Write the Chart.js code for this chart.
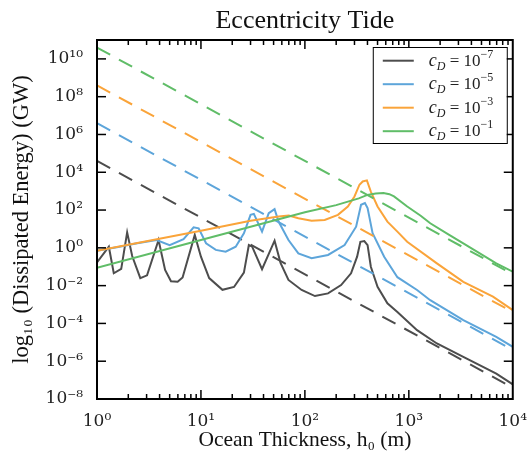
<!DOCTYPE html>
<html><head><meta charset="utf-8">
<script src="https://cdn.jsdelivr.net/npm/chart.js@4/dist/chart.umd.min.js"></script>
<style>html,body{margin:0;padding:0;background:#fff;}</style>
</head><body>
<canvas id="c" width="531" height="451"></canvas>
<script>
// ---- data ----
const xTickValues = [1, 10, 100, 1000, 10000];
const xTickLabels = ['10⁰', '10¹', '10²', '10³', '10⁴'];
const yTickValues = [1e-8, 1e-6, 1e-4, 1e-2, 1, 1e2, 1e4, 1e6, 1e8, 1e10];
const yTickLabels = ['10⁻⁸', '10⁻⁶', '10⁻⁴', '10⁻²', '10⁰', '10²', '10⁴', '10⁶', '10⁸', '10¹⁰'];
const cdExponents = ['−7', '−5', '−3', '−1'];
const seriesColors = ['#4D4D4D', '#5DA5DA', '#FAA43A', '#60BD68'];

const hBlack = [1, 1.3, 1.45, 1.71, 1.95, 2.18, 2.61, 3.03, 3.91, 4.52, 5.15, 5.97, 6.66, 8.72, 10.0, 12.0, 16.1, 20.8, 25.9, 28.9, 31.1, 38.7, 51.1, 58.3, 69.5, 93, 125, 167, 223, 278, 318, 342, 373, 401, 431, 500, 622, 776, 1200, 1862, 3342, 6937, 10000];
const eBlack = [0.17, 1.15, 0.045, 0.076, 6.6, 0.37, 0.025, 0.035, 2.6, 0.068, 0.017, 0.016, 0.027, 4.8, 0.34, 0.025, 0.006, 0.0085, 0.049, 1.4, 1.15, 0.074, 2.4, 0.16, 0.02, 0.0059, 0.0028, 0.0039, 0.0107, 0.045, 0.34, 2.1, 2.3, 1.4, 0.1, 0.0087, 0.00115, 4.0e-4, 4.4e-5, 8.7e-6, 1.7e-6, 2.2e-7, 6.0e-8];

const hBlue = [1, 1.6, 2.44, 3.74, 5.0, 6.8, 8.5, 9.5, 11.2, 13.9, 17.3, 21.6, 25.9, 30, 32.3, 38.7, 44.9, 51.1, 55.8, 69.5, 86.5, 116, 167, 241, 311, 347, 378, 401, 448, 579, 776, 1200, 1607, 3342, 6937, 10000];
const eBlue = [0.7, 1.1, 1.74, 2.6, 1.4, 2.9, 12.3, 10.7, 1.74, 0.78, 0.63, 1.15, 5.9, 55.6, 63, 7.2, 68, 112, 24.5, 2.6, 0.51, 0.28, 0.42, 1.4, 13.2, 190, 234, 126, 5.9, 0.34, 0.028, 0.0059, 0.0017, 1.5e-4, 1.95e-5, 5.8e-6];

const hOrange = [1, 10, 30, 56, 70, 86.5, 116, 155, 208, 259, 300, 335, 360, 395, 431, 500, 622, 776, 964, 1862, 3342, 6450, 10000];
const eOrange = [0.71, 8.1, 27, 45, 52, 37, 27, 30, 56, 155, 525, 2190, 3240, 3720, 955, 155, 24.5, 7.2, 2.1, 0.15, 0.016, 0.0026, 5.1e-4];

const hGreen = [1, 10, 100, 200, 330, 400, 480, 570, 650, 720, 965, 1300, 1607, 2400, 3342, 6937, 10000];
const eGreen = [0.089, 2.6, 76, 182, 417, 631, 759, 794, 692, 525, 155, 50, 20, 5.2, 1.74, 0.15, 0.055];

const hDash = [1, 10000];
const eDashBlack = [3.98e4, 3.98e-8];
const eDashBlue = [3.98e6, 3.98e-6];
const eDashOrange = [3.98e8, 3.98e-4];
const eDashGreen = [3.98e10, 3.98e-2];

// ---- build ----
const SERIF = "'Liberation Serif', 'DejaVu Serif', serif";
const TICKSERIF = "'DejaVu Serif', serif";
const toPts = (hs, es) => hs.map((h, i) => ({x: h, y: es[i]}));
const solid = [[hBlack, eBlack], [hBlue, eBlue], [hOrange, eOrange], [hGreen, eGreen]];
const dashed = [eDashBlack, eDashBlue, eDashOrange, eDashGreen];
const datasets = [];
solid.forEach((s, i) => {
  datasets.push({label: 'cD = 10' + cdExponents[i], data: toPts(s[0], s[1]), borderColor: seriesColors[i],
    borderWidth: 2, pointRadius: 0, tension: 0, fill: false, order: 10 - 2 * i});
  datasets.push({data: toPts(hDash, dashed[i]), borderColor: seriesColors[i], borderWidth: 2,
    borderDash: [15, 10], pointRadius: 0, tension: 0, fill: false, order: 9 - 2 * i});
});

const framePlugin = {
  id: 'frame',
  afterDatasetsDraw(chart) {
    const {ctx, chartArea: {left, right, top, bottom}} = chart;
    const xs = chart.scales.x, ys = chart.scales.y;
    ctx.save();
    ctx.strokeStyle = '#000';
    ctx.lineWidth = 1.5;
    const seg = (a, b, c, d) => { ctx.beginPath(); ctx.moveTo(a, b); ctx.lineTo(c, d); ctx.stroke(); };
    for (let d = 1; d < 10000; d *= 10) {
      for (let m = 2; m < 10; m++) {
        const p = xs.getPixelForValue(d * m);
        seg(p, bottom, p, bottom - 5);
        seg(p, top, p, top + 5);
      }
    }
    xTickValues.forEach(v => {
      if (v <= 1 || v >= 10000) return;
      const p = xs.getPixelForValue(v);
      seg(p, bottom, p, bottom - 9); seg(p, top, p, top + 9);
    });
    yTickValues.forEach(v => {
      const p = ys.getPixelForValue(v);
      if (p >= bottom - 1) return;
      seg(left, p, left + 9, p); seg(right, p, right - 9, p);
    });
    ctx.lineWidth = 2;
    ctx.strokeRect(left, top, right - left, bottom - top);
    ctx.restore();
  }
};

const legendPlugin = {
  id: 'innerLegend',
  afterDraw(chart) {
    const {ctx, chartArea: {right, top}} = chart;
    const bx = right - 140, by = top + 7, bw = 134, bh = 96;
    ctx.save();
    ctx.fillStyle = '#fff';
    ctx.fillRect(bx, by, bw, bh);
    ctx.strokeStyle = '#000';
    ctx.lineWidth = 1;
    ctx.strokeRect(bx + 0.5, by + 0.5, bw, bh);
    const items = chart.data.datasets.filter(d => d.label);
    items.forEach((d, i) => {
      const y = by + 13.7 + i * 23.5;
      ctx.strokeStyle = d.borderColor;
      ctx.lineWidth = 2;
      ctx.beginPath(); ctx.moveTo(bx + 10, y); ctx.lineTo(bx + 41, y); ctx.stroke();
      ctx.fillStyle = '#222';
      ctx.textBaseline = 'alphabetic';
      let x = bx + 56;
      const base = y + 5;
      const parts = [
        ['c', 'italic 18px ' + SERIF, 0],
        ['D', 'italic 12px ' + SERIF, 4],
        [' = 10', '17px ' + SERIF, 0],
        [cdExponents[i], '12px ' + SERIF, -8]
      ];
      parts.forEach(([t, f, dy]) => {
        ctx.font = f;
        ctx.fillText(t, x, base + dy);
        x += ctx.measureText(t).width;
      });
    });
    ctx.restore();
  }
};

new Chart(document.getElementById('c'), {
  type: 'line',
  data: {datasets},
  options: {
    responsive: false, animation: false, devicePixelRatio: 1,
    layout: {padding: {left: 0, right: 14, top: 0, bottom: 0}},
    plugins: {
      legend: {display: false}, tooltip: {enabled: false},
      title: {display: true, text: 'Eccentricity Tide', fullSize: false, color: '#111',
        font: {family: SERIF, size: 26, weight: 'normal', lineHeight: 1.2}, padding: {top: 5.4, bottom: 3.4}}
    },
    scales: {
      x: {
        type: 'logarithmic', min: 1, max: 10000,
        grid: {display: false}, border: {display: false},
        afterBuildTicks: s => { s.ticks = xTickValues.map(v => ({value: v})); },
        afterFit: s => { s.height = 52; },
        ticks: {callback: (v, i) => xTickLabels[i], padding: 4, color: '#222', maxRotation: 0, autoSkip: false,
          font: {family: TICKSERIF, size: 17}},
        title: {display: true, text: 'Ocean Thickness, h₀ (m)', color: '#111',
          font: {family: SERIF, size: 21.5, lineHeight: 1}, padding: {top: 0, bottom: 0}}
      },
      y: {
        type: 'logarithmic', min: 1e-8, max: 1e11,
        grid: {display: false}, border: {display: false},
        afterBuildTicks: s => { s.ticks = yTickValues.map(v => ({value: v})); },
        afterFit: s => { s.width = 97; },
        ticks: {callback: (v, i) => yTickLabels[i], padding: 6, color: '#222', autoSkip: false,
          font: {family: TICKSERIF, size: 17}},
        title: {display: true, text: 'log₁₀ (Dissipated Energy) (GW)', color: '#111',
          font: {family: SERIF, size: 22.5, lineHeight: 1}, padding: {top: 11, bottom: 0}}
      }
    }
  },
  plugins: [framePlugin, legendPlugin]
});
</script>
</body></html>
